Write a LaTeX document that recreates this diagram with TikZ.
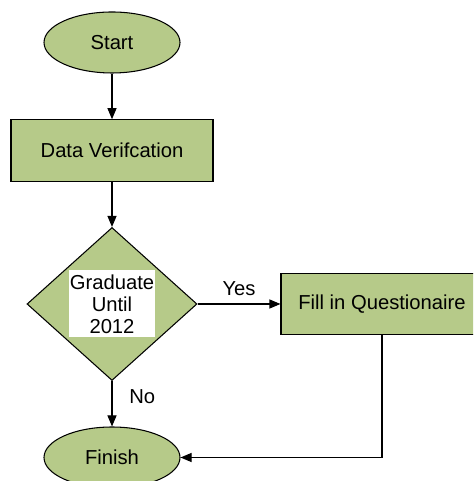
\documentclass[tikz,border=0pt]{standalone}
\usepackage{fontspec}
\setmainfont{Liberation Sans}
\usetikzlibrary{shapes.geometric,positioning,arrows.meta}
\definecolor{boxgreen}{RGB}{182,202,137}

\begin{document}
\begin{tikzpicture}[node distance={3.07cm}, on grid, line width=0.6pt, >={Triangle[length=2.2mm,width=1.8mm]},
  font=\fontsize{11.5}{12.5}\selectfont,
  term/.style = {draw, ellipse, fill=boxgreen, minimum width=2.72cm, minimum height=1.22cm, inner sep=0pt},
  proc/.style = {draw, rectangle, fill=boxgreen, minimum width=4.04cm, minimum height=1.23cm},
  decide/.style = {draw, diamond, fill=boxgreen, minimum width=3.4cm, minimum height=3.06cm, inner sep=0pt, aspect=1.11}]
\useasboundingbox (0,0) rectangle (9.46,9.62);
\clip (0,0) rectangle (9.46,9.62);

\node[term] (start) at (2.24,8.77) {Start};
\node[proc] (data) [below=2.16cm of start] {Data Verifcation};
\node[decide] (grad) [below of=data] {};
\node[fill=white, align=center, minimum width=1.72cm, minimum height=1.34cm, inner sep=0pt] (gradtext) at (grad) {Graduate\\Until\\2012};
\node[proc] (fill) [right=5.4cm of grad] {Fill in Questionaire};
\node[term] (finish) [below of=grad] {Finish};

\draw[->] (start) -- (data);
\draw[->] (data) -- (grad);
\draw[->] (grad) -- node[midway, anchor=south, yshift=0.4mm] {Yes} (fill);
\draw[->] (grad) -- node[pos=0.35, anchor=west, xshift=2.2mm] {No} (finish);
\draw[->] (fill.south) |- (finish.east);

\end{tikzpicture}
\end{document}
